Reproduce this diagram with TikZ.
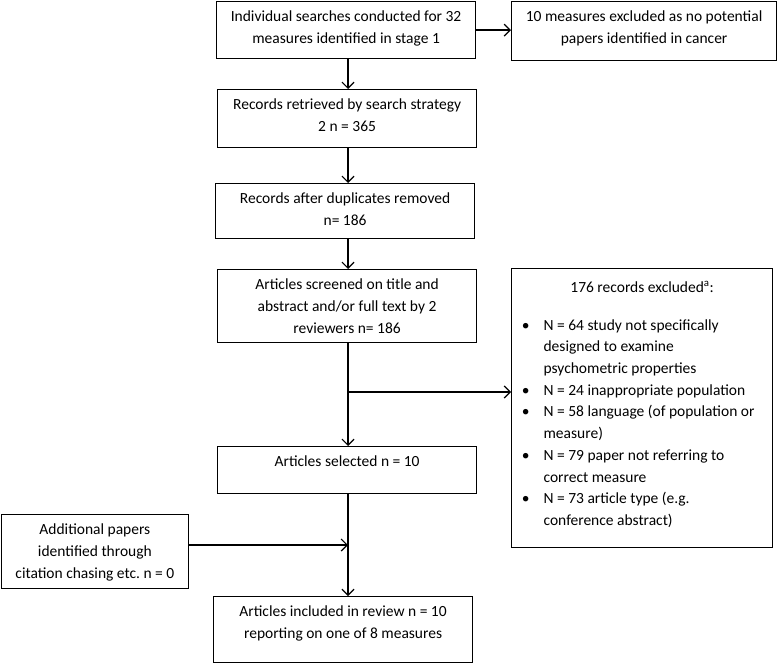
\documentclass[tikz,border=0pt]{standalone}
\usepackage{fontspec}
\setmainfont{Carlito}
\frenchspacing
\usetikzlibrary{arrows.meta}

% text of a box: width, height, lines (top aligned)
\newcommand{\cell}[3]{\parbox[c][#2bp][t]{#1bp}{\centering\rule{0pt}{19.5bp}#3}}
% bullet hanging in the left margin
\newcommand{\bul}{\leavevmode\llap{\textbullet\hspace{14bp}}}

\tikzset{
  stage/.style={draw, line width=1.2bp, inner sep=0pt, anchor=north west,
    font=\fontsize{15.5bp}{22bp}\selectfont},
  flow/.style={line width=1.2bp, -{Straight Barb[length=6bp, width=12bp]}}
}

\begin{document}
\begin{tikzpicture}[x=1bp, y=-1bp]
\useasboundingbox (0,0) rectangle (779,664);

\node[stage] (search) at (216,1) {\cell{259}{57}{Individual searches conducted for 32\\measures identified in stage 1}};
\node[stage] (nopot) at (511,1) {\cell{265}{59}{10 measures excluded as no potential\\papers identified in cancer}};
\node[stage] (retr) at (217,89) {\cell{259}{58}{Records retrieved by search strategy\\2 n = 365}};
\node[stage] (dupl) at (215,183) {\cell{259}{55}{Records after duplicates removed\\n= 186}};
\node[stage] (screen) at (217,269) {\cell{259}{73}{Articles screened on title and\\abstract and/or full text by 2\\reviewers n= 186}};
\node[stage] (selected) at (217,446) {\cell{259}{47}{Articles selected n = 10}};
\node[stage] (addit) at (0.8,514) {\cell{187}{74}{Additional papers\\identified through\\citation chasing etc. n = 0}};
\node[stage] (incl) at (213,596) {\cell{259}{66}{Articles included in review n = 10\\reporting on one of 8 measures}};

% exclusion list
\node[stage] (exclud) at (511,268) {\parbox[c][279bp][t]{261bp}{%
  \centering\rule{0pt}{23.5bp}176 records excluded\textsuperscript{a}:\par
  \vspace{16.3bp}
  \raggedright\leftskip=32bp\parindent=0pt\baselineskip=21.7bp
  \bul N = 64 study not specifically\\designed to examine\\psychometric properties\par
  \bul N = 24 inappropriate population\par
  \bul N = 58 language (of population or\\measure)\par
  \bul N = 79 paper not referring to\\correct measure\par
  \bul N = 73 article type (e.g.\\conference abstract)\par}};

\coordinate (spine) at (348,0);
\coordinate (split) at (348,392);
\coordinate (merge) at (348,545);

\draw[flow] (search.east) -- (search.east -| nopot.west);
\draw[flow] (search.south -| spine) -- (retr.north -| spine);
\draw[flow] (retr.south -| spine) -- (dupl.north -| spine);
\draw[flow] (dupl.south -| spine) -- (screen.north -| spine);
\draw[flow] (screen.south -| spine) -- (selected.north -| spine);
\draw[flow] (split) -- (split -| exclud.west);
\draw[flow] (selected.south -| spine) -- (incl.north -| spine);
\draw[flow] (addit.east |- merge) -- (merge);
\end{tikzpicture}
\end{document}
